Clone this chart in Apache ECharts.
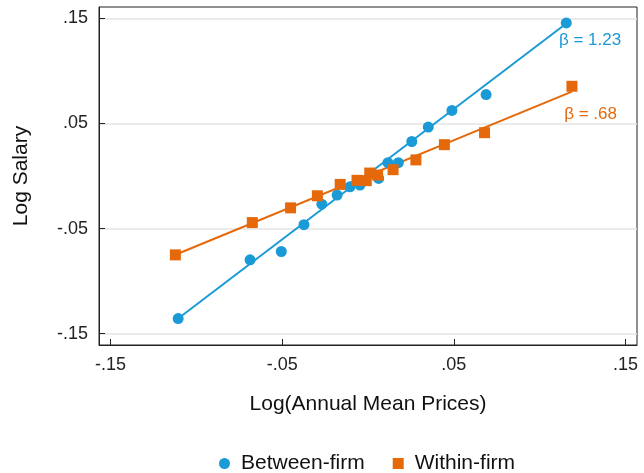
<!DOCTYPE html>
<html>
<head>
<meta charset="utf-8">
<script src="https://cdn.jsdelivr.net/npm/echarts@6/dist/echarts.min.js"></script>
<style>html,body{margin:0;padding:0;background:#fff}#c{width:644px;height:473px}</style>
</head>
<body>
<div id="c"></div>
<script>
// Between-firm binned scatter
var betweenX = [-0.1106,-0.0687,-0.0505,-0.0373,-0.0269,-0.0180,-0.0105,-0.0047,0.0062,0.0116,0.0177,0.0255,0.0351,0.0489,0.0688,0.1155];
var betweenY = [-0.1356,-0.0797,-0.0718,-0.0463,-0.0268,-0.0181,-0.0103,-0.0086,-0.0023,0.0127,0.0127,0.0328,0.0465,0.0623,0.0774,0.1456];
// Within-firm binned scatter
var withinX = [-0.1122,-0.0674,-0.0451,-0.0295,-0.0162,-0.0064,-0.0010,0.0010,0.0056,0.0146,0.0279,0.0445,0.0679,0.1188];
var withinY = [-0.0750,-0.0443,-0.0303,-0.0188,-0.0080,-0.0041,-0.0044,0.0028,0.0009,0.0060,0.0153,0.0298,0.0412,0.0853];
// Fitted lines (endpoints)
var betweenFitX = [-0.1106, 0.1155];
var betweenFitY = [-0.1355, 0.1450];
var withinFitX = [-0.1122, 0.1188];
var withinFitY = [-0.0749, 0.0803];
// Annotations
var betweenLabel = 'β = 1.23', betweenLabelPos = [0.1112, 0.1292];
var withinLabel = 'β = .68', withinLabelPos = [0.1143, 0.0585];
// Ticks
var xTicks = [-0.15, -0.05, 0.05, 0.15];
var yTicks = [-0.15, -0.05, 0.05, 0.15];
var seriesNames = ['Between-firm', 'Within-firm'];

var BLUE = '#1a9ad6', ORANGE = '#e5690b';
var FONT = '"Liberation Sans", Arial, sans-serif';
function zip(a, b) { return a.map(function (v, i) { return [v, b[i]]; }); }
function fmt(v) { return (+v).toFixed(2).replace('0.', '.'); }

var chart = echarts.init(document.getElementById('c'), null, {renderer: 'canvas'});
chart.setOption({
  animation: false,
  textStyle: {fontFamily: FONT},
  grid: {left: 99, right: 7, top: 7, bottom: 128, show: true, borderColor: '#222', borderWidth: 1, containLabel: false},
  xAxis: {
    type: 'value', min: -0.1567, max: 0.1567,
    name: 'Log(Annual Mean Prices)', nameLocation: 'middle', nameGap: 49,
    nameTextStyle: {fontSize: 21, color: '#111', fontFamily: FONT},
    axisLine: {show: true, onZero: false, lineStyle: {color: '#222', width: 1}},
    axisTick: {show: true, inside: true, length: 6, customValues: xTicks, lineStyle: {color: '#222'}},
    axisLabel: {customValues: xTicks, formatter: fmt, fontSize: 18, color: '#222', margin: 11, fontFamily: FONT},
    splitLine: {show: false}
  },
  yAxis: {
    type: 'value', min: -0.1607, max: 0.1607,
    name: 'Log Salary', nameLocation: 'middle', nameGap: 67,
    nameTextStyle: {fontSize: 21, color: '#111', fontFamily: FONT},
    axisLine: {show: true, onZero: false, lineStyle: {color: '#222', width: 1}},
    axisTick: {show: true, inside: true, length: 6, customValues: yTicks, lineStyle: {color: '#222'}},
    axisLabel: {customValues: yTicks, formatter: fmt, fontSize: 18, color: '#222', margin: 11, fontFamily: FONT},
    splitLine: {show: true, lineStyle: {color: '#e4e4e4', width: 1.5}}
  },
  legend: {
    top: 448, left: 214, itemWidth: 11, itemHeight: 11, itemGap: 28,
    textStyle: {fontSize: 21, color: '#111', fontFamily: FONT, padding: [0, 0, 0, 6]},
    data: [{name: seriesNames[0], icon: 'circle'}, {name: seriesNames[1], icon: 'rect'}]
  },
  series: [
    {type: 'line', name: 'fitB', data: zip(betweenFitX, betweenFitY), showSymbol: false, symbol: 'none',
     lineStyle: {color: BLUE, width: 2}, z: 2,
     markPoint: {symbol: 'circle', symbolSize: 0, data: [{coord: betweenLabelPos, value: betweenLabel}],
       label: {show: true, position: 'right', distance: 0, formatter: betweenLabel, color: BLUE, fontSize: 17, fontFamily: FONT}}},
    {type: 'line', name: 'fitW', data: zip(withinFitX, withinFitY), showSymbol: false, symbol: 'none',
     lineStyle: {color: ORANGE, width: 2}, z: 2,
     markPoint: {symbol: 'circle', symbolSize: 0, data: [{coord: withinLabelPos, value: withinLabel}],
       label: {show: true, position: 'right', distance: 0, formatter: withinLabel, color: ORANGE, fontSize: 17, fontFamily: FONT}}},
    {type: 'scatter', name: seriesNames[0], data: zip(betweenX, betweenY), symbol: 'circle', symbolSize: 11,
     itemStyle: {color: BLUE, opacity: 1}, z: 3},
    {type: 'scatter', name: seriesNames[1], data: zip(withinX, withinY), symbol: 'rect', symbolSize: 11,
     itemStyle: {color: ORANGE, opacity: 1}, z: 4}
  ]
});
</script>
</body>
</html>
